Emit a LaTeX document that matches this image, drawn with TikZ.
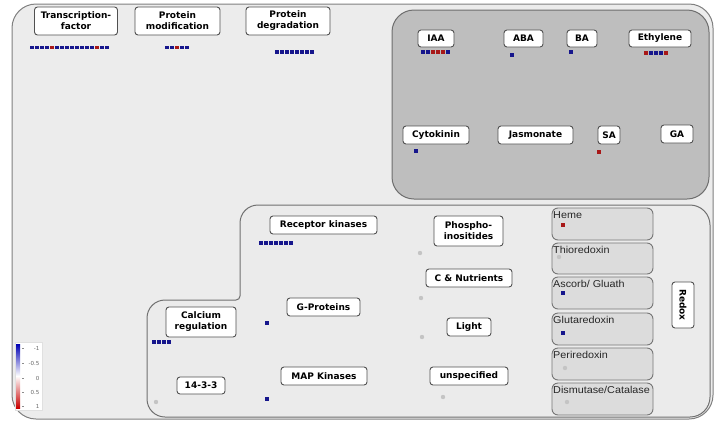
\documentclass[tikz,border=0pt]{standalone}
\usepackage{fontspec}
\newfontfamily\lblfont{DejaVu Sans}
\newfontfamily\redoxfont[FakeStretch=1.08]{Liberation Sans}
\definecolor{outerfill}{HTML}{ECECEC}
\definecolor{outerline}{HTML}{808080}
\definecolor{hormfill}{HTML}{BEBEBE}
\definecolor{hormline}{HTML}{6E6E6E}
\definecolor{botfill}{HTML}{EBEBEB}
\definecolor{botline}{HTML}{707070}
\definecolor{rfill}{HTML}{DCDCDC}
\definecolor{rline}{HTML}{767676}
\definecolor{boxline}{HTML}{505050}
\definecolor{sqblue}{HTML}{16168C}
\definecolor{sqred}{HTML}{A81818}
\definecolor{dotc}{HTML}{C4C4C4}
\definecolor{legblue}{HTML}{0000B4}
\definecolor{legred}{HTML}{C80000}
\newcommand\sqrow[3]{%
  \foreach \c [count=\i from 0] in {#3} {\fill[sq\c] ({#1+5*\i},#2) rectangle ++(4.2,3.6);}}
\begin{document}
\begin{tikzpicture}[x=1pt,y=-1pt,
  box/.style={draw=boxline, fill=white, line width=0.9pt, rounded corners=3pt,
    font=\lblfont\bfseries\fontsize{9}{11}\selectfont, align=center, inner sep=0pt, text=black},
  dims/.style 2 args={minimum width=#1, minimum height=#2},
  rbox/.style={draw=rline, fill=rfill, line width=0.9pt, rounded corners=6pt},
  rlbl/.style={font=\redoxfont\fontsize{10}{12}\selectfont, anchor=base west, inner sep=0pt, text=black!85},
  sqB/.style={fill=sqblue},
  sqR/.style={fill=sqred},
  gdot/.style={fill=dotc},
  legtxt/.style={font=\lblfont\fontsize{5.5}{6}\selectfont, text=black!60, inner sep=0pt, anchor=east}]
\useasboundingbox (0,0) rectangle (715,421);
\fill[white] (0,0) rectangle (715,421);
% outer panel
\draw[line width=1pt, draw=outerline, fill=outerfill, rounded corners=24pt] (12,4) rectangle (713,419);
% hormone panel
\draw[line width=1pt, draw=hormline, fill=hormfill, rounded corners=22pt] (392,10) rectangle (709,199);
% bottom panel
\draw[line width=1pt, draw=botline, fill=botfill]
  (258,205) -- (690,205) arc[start angle=90, end angle=0, radius=20pt]
  -- (710,397) arc[start angle=0, end angle=-90, radius=20pt]
  -- (165,417) arc[start angle=270, end angle=180, radius=18pt]
  -- (147,318) arc[start angle=180, end angle=90, radius=18pt]
  -- (236,300) arc[start angle=-90, end angle=0, radius=4pt]
  -- (240,223) arc[start angle=180, end angle=90, radius=18pt] -- cycle;
% redox boxes
\foreach \t/\b/\n in {208/240/r1,243/274/r2,277/309/r3,313/345/r4,348/380/r5,383/415/r6}
  \draw[rbox] (552,\t) rectangle (653,\b);
\node[rlbl] (heme) at (553,218) {Heme};
\node[rlbl] (thio) at (553,253) {Thioredoxin};
\node[rlbl] (asc) at (553,287) {Ascorb/ Gluath};
\node[rlbl] (glu) at (553,323) {Glutaredoxin};
\node[rlbl] (peri) at (553,358) {Periredoxin};
\node[rlbl] (dism) at (553,393) {Dismutase/Catalase};
% nodes
\node[box, dims={83}{28}] (tf) at (76,21) {Transcription-\\factor};
\node[box, dims={85}{28}] (pm) at (177.5,21) {Protein\\modification};
\node[box, dims={84}{28}] (pd) at (288,21) {Protein\\degradation};
\node[box, dims={36}{17}] (iaa) at (436,38.5) {IAA};
\node[box, dims={39}{17}] (aba) at (523.5,38.5) {ABA};
\node[box, dims={30}{17}] (ba) at (582,38.5) {BA};
\node[box, dims={62}{17}] (eth) at (660,38.5) {Ethylene};
\node[box, dims={66}{18}] (cyt) at (436,135) {Cytokinin};
\node[box, dims={75}{18}] (jas) at (535.5,135) {Jasmonate};
\node[box, dims={22}{18}] (sa) at (609,135) {SA};
\node[box, dims={32}{18}] (ga) at (677,134) {GA};
\node[box, dims={107}{18}] (rk) at (323.5,225) {Receptor kinases};
\node[box, dims={69}{30}] (phi) at (468.5,231) {Phospho-\\inositides};
\node[box, dims={86}{18}] (cn) at (469,278) {C \& Nutrients};
\node[box, dims={73}{18}] (gp) at (323.5,307) {G-Proteins};
\node[box, dims={70}{30}] (ca) at (201,322) {Calcium\\regulation};
\node[box, dims={44}{18}] (light) at (469,327) {Light};
\node[box, dims={86}{18}] (mapk) at (324,376) {MAP Kinases};
\node[box, dims={78}{18}] (unsp) at (469,376) {unspecified};
\node[box, dims={48}{17}] (f1433) at (201,385.5) {14-3-3};
\node[box, rotate=-90, dims={46}{22}] (redox) at (683,305) {Redox};
% square rows
\sqrow{30}{45.5}{B,B,B,B,R,B,B,B,B,B,B,B,B,R,B,B}
\sqrow{165}{45.5}{B,B,R,B,B}
\sqrow{275}{50}{B,B,B,B,B,B,B,B}
\sqrow{421}{50}{B,B,R,R,R,B}
\sqrow{510}{53}{B}
\sqrow{569}{50}{B}
\sqrow{644}{51}{R,B,B,B,R}
\sqrow{414}{149}{B}
\sqrow{597}{150}{R}
\sqrow{259}{241}{B,B,B,B,B,B,B}
\sqrow{152}{340}{B,B,B,B}
\sqrow{265}{321}{B}
\sqrow{265}{397}{B}
\sqrow{561}{223}{R}
\sqrow{561}{291}{B}
\sqrow{561}{331}{B}
% grey dots
\foreach \p in {(420,253),(421,298),(422,337),(443,397),(156,402),(559,257),(565,368),(567,402)}
  \fill[gdot] \p circle (2.2pt);
% legend
\draw[draw=black!12, fill=white] (15,342) rectangle (42,410);
\shade[top color=legblue, bottom color=legred, middle color=white] (16,344) rectangle (20,408);
\foreach \yy/\tx in {348/-1,363/-0.5,378/0,392/0.5,406/1} {
  \draw[black!45, line width=0.4pt] (22,\yy) -- (23.5,\yy);
  \node[legtxt] at (39.5,\yy) {\tx};
}
\end{tikzpicture}
\end{document}
